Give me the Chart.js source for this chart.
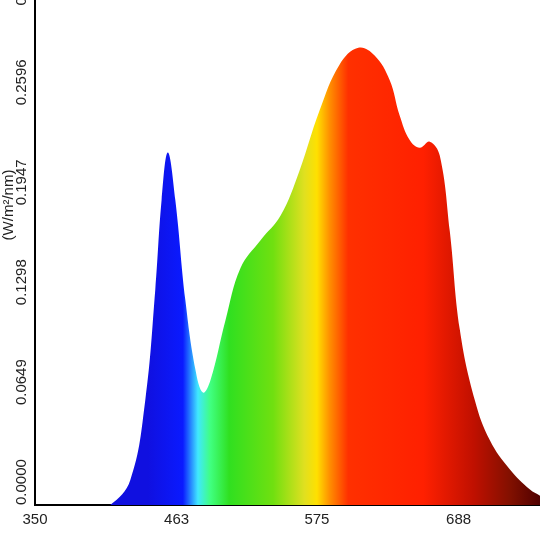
<!DOCTYPE html>
<html>
<head>
<script src="https://cdn.jsdelivr.net/npm/chart.js@4"></script>
<style>
  html, body { margin: 0; padding: 0; background: #fff; }
  #wrap { width: 540px; height: 540px; }
</style>
</head>
<body>
<div id="wrap"><canvas id="myGraph"></canvas></div>
<script>
/* DATOS DEL ESPECTRO */
const wavelengths = [400, 410, 426, 438, 446, 451, 456, 462, 470, 478, 484, 490, 502, 514, 530, 546, 561, 577, 593, 608, 621, 633, 641, 649, 657, 665, 673, 681, 689, 701, 713, 729, 745, 753];
const irradiance = [0, 0, 0.016, 0.068, 0.14, 0.198, 0.229, 0.198, 0.133, 0.088, 0.073, 0.081, 0.12, 0.154, 0.172, 0.188, 0.217, 0.256, 0.286, 0.297, 0.292, 0.276, 0.253, 0.237, 0.232, 0.236, 0.227, 0.178, 0.114, 0.068, 0.042, 0.023, 0.010, 0.006];
const yTicks = [0, 0.0649, 0.1298, 0.1947, 0.2596, 0.3245];
const xTicks = [350, 463, 575, 688];
/* COLORES POR LONGITUD DE ONDA */
const colorStops = [[440, "#1010e0"], [468, "#0a1aff"], [480, "#40e8ff"], [490, "#40ff80"], [505, "#30e020"], [540, "#70e010"], [565, "#e0e020"], [575, "#ffe000"], [585, "#ff9000"], [600, "#ff3000"], [660, "#ff2000"], [700, "#c01000"], [730, "#801000"], [753, "#500000"]];

function spectrumFill(ctx) {
  const chart = ctx.chart;
  const area = chart.chartArea;
  if (!area) return "#f00";
  const xs = chart.scales.x;
  const g = chart.ctx.createLinearGradient(area.left, 0, area.right, 0);
  colorStops.forEach(([nm, c]) => {
    const p = (xs.getPixelForValue(nm) - area.left) / (area.right - area.left);
    g.addColorStop(Math.min(1, Math.max(0, p)), c);
  });
  return g;
}

const labelsPlugin = {
  id: "labels",
  afterDraw(chart) {
    const c = chart.ctx;
    const ys = chart.scales.y;
    c.save();
    c.fillStyle = "#222";
    c.font = "15px 'Liberation Sans', Arial";
    yTicks.forEach(v => {
      const py = ys.getPixelForValue(v);
      c.save();
      c.translate(26, py);
      c.rotate(-Math.PI / 2);
      c.textAlign = "left";
      c.textBaseline = "alphabetic";
      c.fillText(v.toFixed(4), 0, 0);
      c.restore();
    });
    c.translate(13, 205);
    c.rotate(-Math.PI / 2);
    c.textAlign = "center";
    c.fillText("(W/m²/nm)", 0, 0);
    c.restore();
  }
};

const chart = new Chart(document.getElementById("myGraph"), {
  type: "line",
  data: {
    datasets: [{
      data: wavelengths.map((w, i) => ({ x: w, y: irradiance[i] })),
      fill: "origin",
      backgroundColor: spectrumFill,
      borderWidth: 0,
      pointRadius: 0,
      tension: 0.4
    }]
  },
  options: {
    responsive: true,
    maintainAspectRatio: false,
    animation: false,
    layout: { padding: 0 },
    plugins: { legend: { display: false }, tooltip: { enabled: false } },
    scales: {
      x: {
        type: "linear", min: 350, max: 753,
        afterBuildTicks: s => { s.ticks = xTicks.map(v => ({ value: v })); },
        afterFit: s => { s.height = 35; },
        grid: { display: false, drawTicks: true, tickLength: 6, tickColor: "#000" },
        border: { color: "#000", width: 2 },
        ticks: { color: "#222", font: { size: 15, family: "'Liberation Sans', Arial" }, maxRotation: 0, padding: 0, autoSkip: false }
      },
      y: {
        min: 0, max: 0.328,
        afterFit: s => { s.width = 35; },
        grid: { display: false },
        border: { color: "#000", width: 2 },
        ticks: { display: false }
      }
    }
  },
  plugins: [labelsPlugin]
});
</script>
</body>
</html>
